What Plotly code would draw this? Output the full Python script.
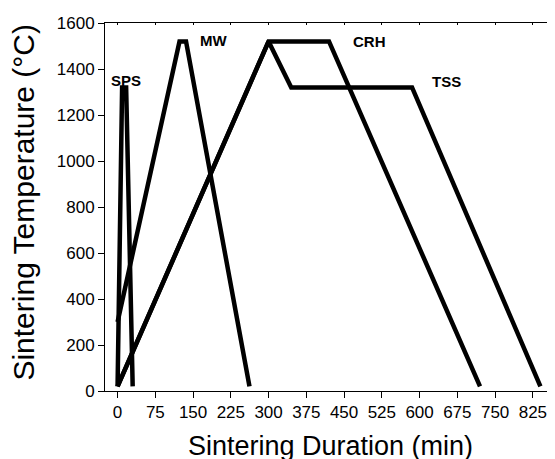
import plotly.graph_objects as go

# Data
sps_x = [0, 9, 17, 30]
sps_y = [20, 1320, 1320, 20]
mw_x = [0, 123, 136, 262]
mw_y = [300, 1520, 1520, 20]
crh_x = [0, 300, 420, 720]
crh_y = [20, 1520, 1520, 20]
tss_x = [0, 300, 345, 585, 840]
tss_y = [20, 1520, 1320, 1320, 20]

labels = ["SPS", "MW", "CRH", "TSS"]
label_x = [17, 190, 501, 654]
label_y = [1350, 1524, 1519, 1345]

x_ticks = [0, 75, 150, 225, 300, 375, 450, 525, 600, 675, 750, 825]
y_ticks = [0, 200, 400, 600, 800, 1000, 1200, 1400, 1600]

FONT = "Arial"
line_style = dict(color="black", width=4.5)

fig = go.Figure()
for xs, ys, name in [(sps_x, sps_y, "SPS"), (mw_x, mw_y, "MW"),
                     (crh_x, crh_y, "CRH"), (tss_x, tss_y, "TSS")]:
    fig.add_trace(go.Scatter(x=xs, y=ys, mode="lines", line=line_style,
                             name=name, showlegend=False))

for t, lx, ly in zip(labels, label_x, label_y):
    fig.add_annotation(x=lx, y=ly, text="<b>%s</b>" % t, showarrow=False,
                       xanchor="center", yanchor="middle",
                       font=dict(family=FONT, size=15, color="black"))

# axis titles placed as annotations for exact placement
fig.add_annotation(xref="paper", yref="paper", x=-0.181, y=0.514,
                   text="Sintering Temperature (°C)", textangle=-90,
                   showarrow=False, xanchor="center", yanchor="middle",
                   font=dict(family=FONT, size=30, color="black"))
fig.add_annotation(xref="paper", yref="paper", x=0.503, y=-0.1035,
                   text="Sintering Duration (min)",
                   showarrow=False, xanchor="center", yanchor="top",
                   font=dict(family=FONT, size=27, color="black"))

# page body has an 8px margin, so the figure is drawn 8px in from the corner
fig.update_layout(
    width=547, height=451,
    margin=dict(l=97, r=1, t=15, b=68, autoexpand=False),
    plot_bgcolor="white", paper_bgcolor="white",
    font=dict(family=FONT, color="black"),
    xaxis=dict(range=[-25, 867], tickvals=x_ticks, ticks="outside", ticklen=6,
               tickcolor="black", showline=True, linecolor="black", linewidth=1,
               showgrid=False, zeroline=False, automargin=False,
               tickfont=dict(family=FONT, size=17, color="black")),
    xaxis2=dict(overlaying="x", matches="x", side="top", range=[-25, 867],
                tickvals=x_ticks, ticks="inside", ticklen=2, tickcolor="black",
                showticklabels=False, showline=True, linecolor="black",
                linewidth=1, showgrid=False, zeroline=False, automargin=False),
    yaxis=dict(range=[0, 1600], tickvals=y_ticks, ticks="outside", ticklen=6,
               tickcolor="black", showline=True, linecolor="black", linewidth=1,
               showgrid=False, zeroline=False, automargin=False,
               tickfont=dict(family=FONT, size=17, color="black")),
)
# invisible trace to anchor the top axis
fig.add_trace(go.Scatter(x=[0], y=[0], xaxis="x2", mode="markers",
                         marker=dict(opacity=0), showlegend=False,
                         hoverinfo="skip"))

fig.write_html("out.html")
